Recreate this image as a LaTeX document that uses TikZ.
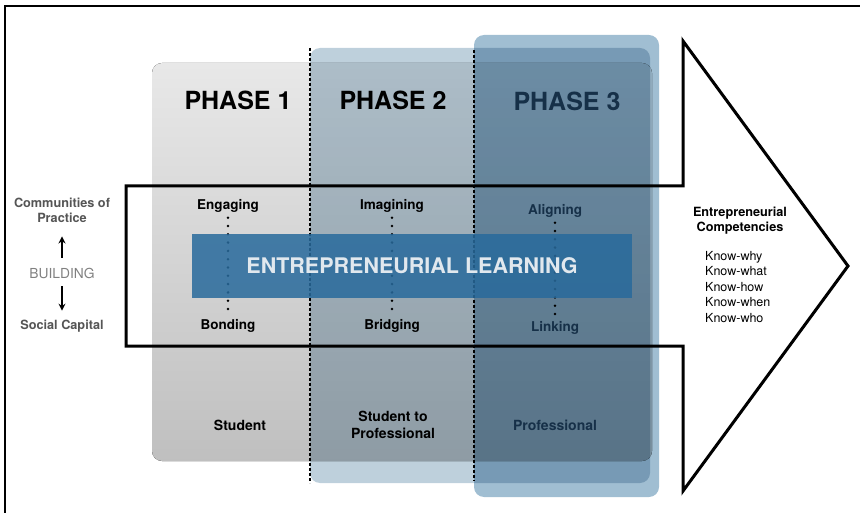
\documentclass[tikz,border=0pt]{standalone}
\usepackage{fontspec}
\setmainfont{TeX Gyre Heros}
\usetikzlibrary{positioning, arrows.meta}
\definecolor{panelblue}{RGB}{190,208,220}
\definecolor{deepblue}{RGB}{160,190,210}
\definecolor{bannerblue}{RGB}{40,106,156}
\definecolor{bannertext}{RGB}{225,232,238}
\definecolor{navy}{RGB}{22,48,72}
\definecolor{sidegray}{RGB}{85,85,85}
\tikzset{
	>={Stealth[length=7pt, width=7pt]},
	phase/.style={inner sep=0, font=\fontsize{25}{30}\selectfont\bfseries},
	stage/.style={inner sep=0, font=\fontsize{13.5}{16}\selectfont\bfseries},
	role/.style={inner sep=0, align=center, font=\fontsize{14}{17}\selectfont\bfseries},
	side/.style={inner sep=0, align=center, text=sidegray, font=\fontsize{12.7}{15}\selectfont\bfseries},
	know/.style={inner sep=0, align=left, font=\fontsize{12.5}{15.5}\selectfont},
	panel/.style={rounded corners=10pt, blend mode=multiply},
	dots/.style={line width=2.8pt, dash pattern=on 0pt off 8.3pt, line cap=round},
	divider/.style={line width=1.2pt, dash pattern=on 3pt off 2pt},
	bigarrow/.style={line width=3pt, line join=miter},
	updown/.style={->, line width=1.6pt},
	banner/.style={fill=bannerblue, fill opacity=0.85, text opacity=1, text=bannertext,
		minimum width=440pt, minimum height=64pt, inner sep=0,
		font=\fontsize{21.5}{26}\selectfont\bfseries}}

\begin{document}
\begin{tikzpicture}[x=1pt, y=-1pt]
	\useasboundingbox (0,0) rectangle (860,513);
	\draw[line width=1.5pt] (5,6) rectangle (900,560);
	
	% the three phases
	\fill[rounded corners=10pt, top color=gray!18, bottom color=gray!50] (152,63) rectangle (652,461);
	\fill[panel, fill=panelblue] (310,48) rectangle (650,483);
	\draw[bigarrow] (126,186) -- (683,186) -- (683,41) -- (848,266) -- (683,491) -- (683,346) -- (126,346) -- cycle;
	\fill[panel, fill=deepblue] (474,35) rectangle (659,497);
	
	\node[phase] (ph1) at (238,100) {PHASE 1};
	\node[phase] (ph2) at (393,100) {PHASE 2};
	\node[phase, text=navy] (ph3) at (567,101) {PHASE 3};
	
	\node[stage] (eng) at (228,206) {Engaging};
	\node[stage] (ima) at (392,206) {Imagining};
	\node[stage, text=navy] (ali) at (555,211) {Aligning};
	\node[stage] (bon) at (228,326) {Bonding};
	\node[stage] (bri) at (392,326) {Bridging};
	\node[stage, text=navy] (lin) at (555,328) {Linking};
	
	\node[role] (stu) at (240,425) {Student};
	\node[role] (s2p) at (393,425) {Student to\\Professional};
	\node[role, text=navy] (pro) at (555,425) {Professional};
	
	% social capital side
	\node[side] (cop) at (62,210) {Communities of\\Practice};
	\node[inner sep=0, text=gray, font=\fontsize{13.8}{16}\selectfont] (bui) at (62,273) {BUILDING};
	\node[side] (soc) at (62,326) {Social Capital};
	\draw[updown, shorten <=10pt, shorten >=14pt] (bui.north) -- (cop.south);
	\draw[updown, shorten <=8pt, shorten >=9pt] (bui.south) -- (soc.north);
	
	% competencies in the arrow head
	\node[side, text=black] (ec) at (740,221) {Entrepreneurial\\Competencies};
	\node[know, anchor=north west] (kn) at (705,251) {Know-why\\Know-what\\Know-how\\Know-when\\Know-who};
	
	\draw[dots, shorten <=5pt, shorten >=5pt] (eng) -- (bon);
	\draw[dots, shorten <=5pt, shorten >=5pt] (ima) -- (bri);
	\draw[dots, shorten <=5pt, shorten >=5pt] (ali) -- (lin);
	
	\coordinate (d1) at (310,48);
	\coordinate (d2) at (474,50);
	\draw[divider] (d1) -- ++(0,435);
	\draw[divider] (d2) -- ++(0,431);
	
	\node[banner] (el) at (412,266) {ENTREPRENEURIAL LEARNING};
\end{tikzpicture}
\end{document}
